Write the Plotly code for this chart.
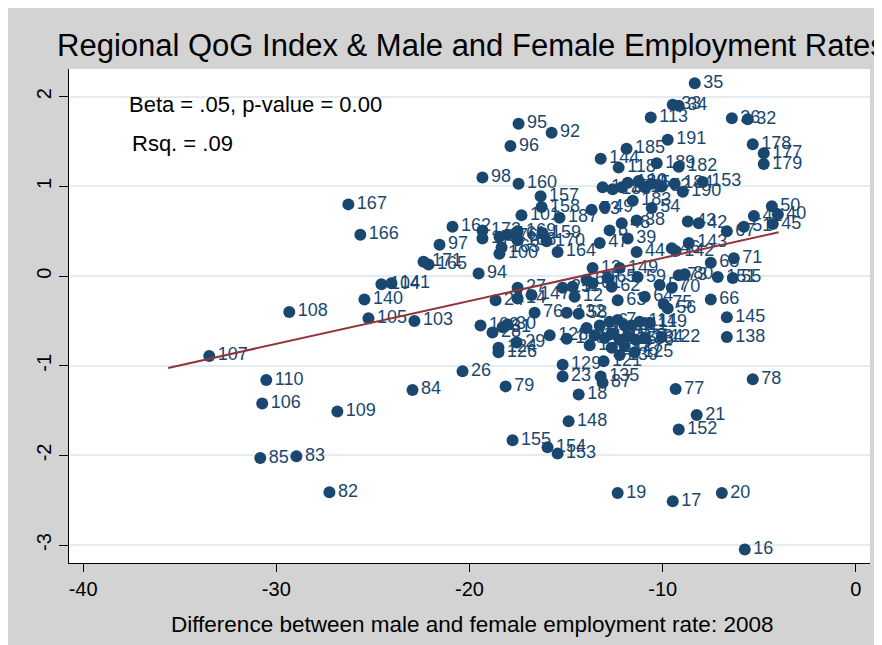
import numpy as np
import plotly.graph_objects as go

# region id, gender gap in employment (2008), regional QoG index
region_ids = [107, 108, 110, 106, 85, 83, 82, 109, 84, 26, 167, 166, 140, 105, 103, 104, 141, 171, 165, 97,
	94, 162, 95, 92, 96, 98, 160, 157, 172, 173, 176, 161, 169, 168, 101, 158, 159, 170, 100, 163,
	164, 187, 113, 35, 33, 34, 36, 32, 191, 178, 177, 179, 189, 182, 153, 184, 190, 50, 40, 41,
	45, 67, 51, 43, 42, 143, 46, 142, 68, 71, 151, 55, 73, 80, 70, 57, 66, 64, 75, 56,
	145, 138, 122, 78, 77, 21, 152, 148, 155, 154, 153, 19, 17, 20, 16, 76, 132, 58, 79, 129,
	23, 18, 135, 87, 121, 29, 124, 126, 102, 28, 30, 31, 128, 120, 24, 27, 14, 147, 25, 12,
	63, 47, 39, 44, 13, 149, 59, 60, 61, 65, 62, 11, 144, 185, 118, 10, 1, 186, 181, 180,
	2, 5, 52, 183, 54, 49, 53, 48, 38, 8, 3, 4, 6, 7, 9, 111, 114, 119, 116, 117,
	112, 115, 123, 133, 134, 136, 137, 127, 125, 139]

emp_gap = [-33.47, -29.33, -30.52, -30.73, -30.83, -28.96, -27.25, -26.84, -22.95, -20.36, -26.27, -25.65, -25.44, -25.23, -22.85, -24.56, -24.04, -22.38, -22.12, -21.55,
	-19.53, -20.88, -17.46, -15.75, -17.88, -19.33, -17.46, -16.32, -19.33, -19.33, -18.45, -18.03, -17.51, -17.51, -17.31, -16.27, -16.22, -16.01, -18.45, -18.34,
	-15.44, -15.34, -10.62, -8.34, -9.48, -9.17, -6.42, -5.60, -9.74, -5.34, -4.77, -4.77, -10.31, -9.17, -7.93, -9.38, -8.96, -4.35, -4.04, -5.28,
	-4.30, -6.68, -5.80, -8.70, -8.13, -8.65, -9.53, -9.33, -7.51, -6.32, -7.15, -6.37, -9.17, -8.86, -9.53, -10.16, -7.51, -10.93, -9.95, -9.74,
	-6.68, -6.68, -10.05, -5.34, -9.33, -8.24, -9.17, -14.87, -17.77, -15.96, -15.44, -12.33, -9.48, -6.94, -5.75, -16.63, -14.97, -14.35, -18.13, -15.18,
	-15.18, -14.35, -13.21, -13.11, -13.06, -17.56, -18.50, -18.50, -19.43, -18.81, -18.03, -18.29, -15.85, -14.97, -18.65, -17.51, -17.51, -16.79, -15.18, -14.56,
	-12.33, -13.26, -11.81, -11.35, -13.63, -12.23, -11.30, -13.94, -13.63, -12.85, -12.64, -14.66, -13.21, -11.87, -12.28, -11.24, -13.11, -12.59, -12.12, -11.81,
	-10.93, -10.57, -10.05, -11.55, -10.57, -13.00, -13.68, -12.12, -11.35, -12.75, -13.94, -13.26, -12.75, -12.33, -11.97, -11.61, -11.19, -10.67, -13.52, -13.01,
	-12.64, -12.23, -11.81, -11.40, -10.93, -13.78, -12.64, -11.97, -11.45, -12.23]

qog_index = [-0.89, -0.40, -1.16, -1.42, -2.03, -2.01, -2.41, -1.51, -1.27, -1.06, 0.80, 0.46, -0.26, -0.47, -0.50, -0.09, -0.08, 0.16, 0.13, 0.35,
	0.03, 0.55, 1.70, 1.60, 1.45, 1.10, 1.03, 0.89, 0.51, 0.42, 0.44, 0.46, 0.50, 0.40, 0.68, 0.77, 0.48, 0.39, 0.25, 0.32,
	0.27, 0.65, 1.77, 2.15, 1.91, 1.90, 1.76, 1.75, 1.52, 1.47, 1.37, 1.25, 1.26, 1.22, 1.05, 1.03, 0.94, 0.78, 0.69, 0.67,
	0.58, 0.50, 0.55, 0.61, 0.59, 0.37, 0.31, 0.28, 0.15, 0.20, -0.01, -0.02, 0.01, 0.02, -0.13, -0.10, -0.26, -0.23, -0.31, -0.36,
	-0.46, -0.68, -0.68, -1.15, -1.26, -1.55, -1.71, -1.62, -1.83, -1.91, -1.98, -2.42, -2.51, -2.42, -3.05, -0.41, -0.41, -0.42, -1.23, -0.99,
	-1.12, -1.32, -1.12, -1.19, -0.95, -0.74, -0.80, -0.85, -0.55, -0.63, -0.54, -0.57, -0.66, -0.70, -0.27, -0.13, -0.25, -0.21, -0.13, -0.23,
	-0.27, 0.37, 0.42, 0.27, 0.09, 0.09, -0.01, -0.04, -0.08, -0.02, -0.12, -0.12, 1.31, 1.42, 1.21, 1.06, 0.99, 0.97, 0.99, 1.04,
	0.99, 1.03, 1.00, 0.84, 0.76, 0.77, 0.74, 0.59, 0.62, 0.51, -0.58, -0.55, -0.51, -0.49, -0.55, -0.55, -0.51, -0.52, -0.66, -0.69,
	-0.64, -0.71, -0.67, -0.71, -0.69, -0.77, -0.80, -0.78, -0.85, -0.88]

# axis ticks (Stata style, plain hyphen for the minus sign)
x_ticks = [-40, -30, -20, -10, 0]
x_tick_labels = ['-40', '-30', '-20', '-10', '0']
y_ticks = [-3, -2, -1, 0, 1, 2]
y_tick_labels = ['-3', '-2', '-1', '0', '1', '2']

# linear fit reported in the chart
fit_range = [-35.6, -4.0]
fit_intercept = 0.681
fit_slope = 0.0479

navy = '#1a476f'
maroon = '#90353b'

fig = go.Figure()

trace = go.Scatter(x=emp_gap, y=qog_index, mode='markers+text', text=[str(r) for r in region_ids],
	textposition='middle right', textfont=dict(size=18, color=navy, family='Liberation Sans, Arial'),
	marker=dict(size=12, color=navy), cliponaxis=False, hoverinfo='skip')
fig.add_trace(trace)

fit_x = np.array(fit_range)
trace = go.Scatter(x=fit_x, y=fit_intercept + fit_slope*fit_x, mode='lines',
	line=dict(color=maroon, width=2), hoverinfo='skip')
fig.add_trace(trace)

fig.update_layout(
	width=882, height=645,
	margin=dict(l=61, r=20, t=61, b=90),
	paper_bgcolor='#d3d3d3', plot_bgcolor='white',
	showlegend=False,
	font=dict(family='Liberation Sans, Arial', color='black', size=20),
	title=dict(text='Regional QoG Index & Male and Female Employment Rates', x=0.0556, xanchor='left',
		y=0.9426, yanchor='middle', xref='container', yref='container', font=dict(size=31, color='black')),
)

fig.update_xaxes(range=[-40.73, 0.73], tickvals=x_ticks, ticktext=x_tick_labels, ticks='outside', ticklen=8,
	tickcolor='black', showline=True, linecolor='black', linewidth=1, showgrid=False, zeroline=False,
	tickfont=dict(size=20))
fig.update_yaxes(range=[-3.2, 2.31], tickvals=y_ticks, ticktext=y_tick_labels, ticks='outside', ticklen=9,
	tickcolor='black', showline=True, linecolor='black', linewidth=1, showgrid=True, gridcolor='#e4ecef',
	gridwidth=1.5, zeroline=False, tickangle=-90, tickfont=dict(size=20), ticklabelstandoff=0)

fig.add_annotation(text='Difference between male and female employment rate: 2008', x=0.5025, y=-0.1255,
	xref='paper', yref='paper', showarrow=False, font=dict(size=22.5), xanchor='center', yanchor='middle')
fig.add_annotation(text='Beta = .05, p-value = 0.00', x=0.0724, y=0.929, xref='paper', yref='paper',
	showarrow=False, xanchor='left', yanchor='middle', font=dict(size=22))
fig.add_annotation(text='Rsq. = .09', x=0.0762, y=0.850, xref='paper', yref='paper',
	showarrow=False, xanchor='left', yanchor='middle', font=dict(size=22))

fig.write_html("out.html")
